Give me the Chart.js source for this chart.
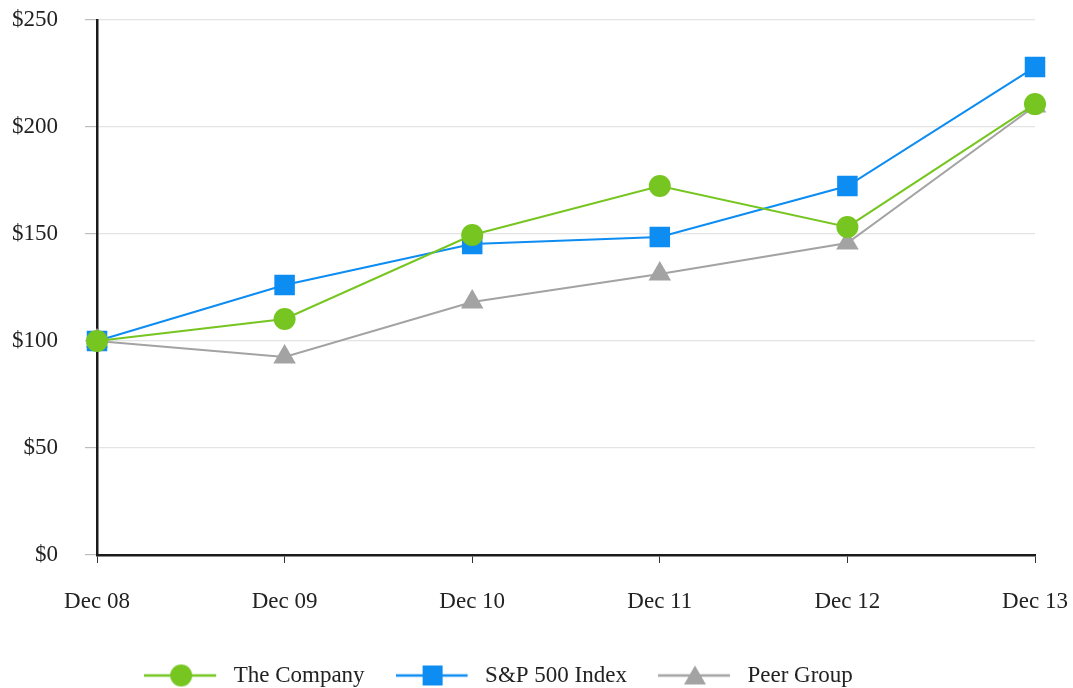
<!DOCTYPE html>
<html><head><meta charset="utf-8">
<script src="https://cdn.jsdelivr.net/npm/chart.js@4.4.1/dist/chart.umd.min.js"></script>
<style>html,body{margin:0;padding:0;background:#fff;}#wrap{width:1073px;height:688px;}</style>
</head><body><div id="wrap"><canvas id="c" width="1073" height="688"></canvas></div>
<script>
const categories = ['Dec 08','Dec 09','Dec 10','Dec 11','Dec 12','Dec 13'];
const companyValues = [100, 110.3, 149.5, 172.4, 153.3, 210.7];
const sp500Values = [100, 126.2, 145.3, 148.6, 172.4, 228.0];
const peerValues = [100, 92.5, 118.2, 131.3, 145.8, 209.8];
const seriesNames = ['The Company', 'S&P 500 Index', 'Peer Group'];
const yMin = 0, yMax = 250, yStep = 50;

const GREEN = '#76c520', BLUE = '#0d8cf2', GRAY = '#a3a3a3';
const FONT = 'Liberation Serif';

function makeIcon(color, shape) {
  const cv = document.createElement('canvas');
  cv.width = 78; cv.height = 26;
  const g = cv.getContext('2d');
  g.strokeStyle = color; g.lineWidth = 2.5;
  g.beginPath(); g.moveTo(0, 13); g.lineTo(72, 13); g.stroke();
  g.fillStyle = color;
  g.beginPath();
  if (shape === 'circle') { g.arc(37, 13, 11, 0, Math.PI * 2); }
  else if (shape === 'rect') { g.rect(27, 3, 20, 20); }
  else { g.moveTo(37, 3); g.lineTo(48, 22); g.lineTo(26, 22); g.closePath(); }
  g.fill();
  return cv;
}
const icons = [makeIcon(GREEN, 'circle'), makeIcon(BLUE, 'rect'), makeIcon(GRAY, 'tri')];

const legendTweak = {
  id: 'legendTweak',
  beforeLayout(chart) {
    const lg = chart.legend;
    if (lg && !lg._tw) {
      const orig = lg.fit.bind(lg);
      lg.fit = function () { orig(); this.height = 60; };
      lg._tw = true;
    }
  },
  afterLayout(chart) {
    const lg = chart.legend;
    if (lg) { lg.left -= 19; lg.right -= 19; lg.top += 5; lg.bottom += 5; }
  }
};

new Chart(document.getElementById('c'), {
  type: 'line',
  data: {
    labels: categories,
    datasets: [
      { label: seriesNames[0], data: companyValues, borderColor: GREEN, backgroundColor: GREEN,
        pointStyle: 'circle', pointRadius: 11, pointHoverRadius: 11, pointBorderWidth: 0, borderWidth: 2 },
      { label: seriesNames[1], data: sp500Values, borderColor: BLUE, backgroundColor: BLUE,
        pointStyle: 'rect', pointRadius: 14.5, pointHoverRadius: 14.5, pointBorderWidth: 0, borderWidth: 2 },
      { label: seriesNames[2], data: peerValues, borderColor: GRAY, backgroundColor: GRAY,
        pointStyle: 'triangle', pointRadius: 13, pointHoverRadius: 13, pointBorderWidth: 0, borderWidth: 2 }
    ]
  },
  options: {
    responsive: false,
    animation: false,
    layout: { padding: { top: 20, right: 38, left: 0, bottom: 0 } },
    elements: { line: { tension: 0 } },
    plugins: {
      tooltip: { enabled: false },
      legend: {
        position: 'bottom',
        labels: {
          usePointStyle: true,
          pointStyleWidth: 78,
          padding: 31,
          color: '#222',
          font: { family: FONT, size: 23 },
          generateLabels(chart) {
            const items = Chart.defaults.plugins.legend.labels.generateLabels(chart);
            return items.map((it, i) => Object.assign(it, { pointStyle: icons[i] }));
          }
        }
      }
    },
    scales: {
      x: {
        type: 'category',
        offset: false,
        grid: { drawOnChartArea: false, drawTicks: true, tickLength: 8, color: '#333', lineWidth: 1 },
        border: { color: '#1a1a1a', width: 2.5 },
        ticks: { color: '#222', font: { family: FONT, size: 23 }, padding: 25, maxRotation: 0, autoSkip: false },
        afterFit(s) { s.height = 73; s.paddingLeft = 0; s.paddingRight = 0; }
      },
      y: {
        min: yMin, max: yMax,
        grid: { color: '#e4e4e4', lineWidth: 1.2, tickLength: 12, tickColor: '#bdbdbd' },
        border: { color: '#1a1a1a', width: 2.5 },
        ticks: { stepSize: yStep, color: '#222', font: { family: FONT, size: 23 }, padding: 27,
          callback: v => '$' + v },
        afterFit(s) { s.width = 97; s.paddingTop = 0; s.paddingBottom = 0; }
      }
    }
  },
  plugins: [legendTweak]
});
</script>
</body></html>
